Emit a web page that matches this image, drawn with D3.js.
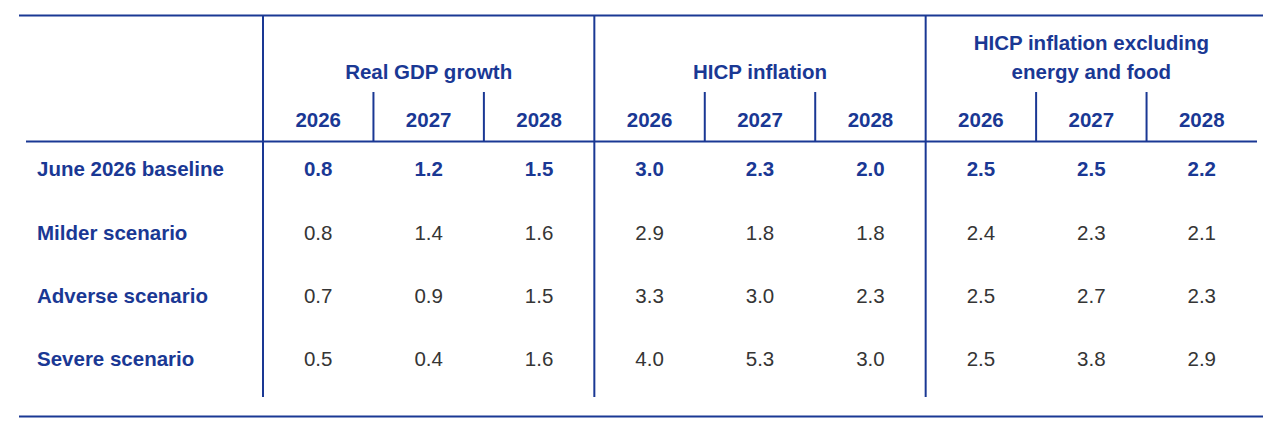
<!DOCTYPE html>
<html>
<head>
<meta charset="utf-8">
<script src="https://cdn.jsdelivr.net/npm/d3@7"></script>
<style>
  body { margin: 0; background: #fff; }
  svg { display: block; font-family: "Liberation Sans", Arial, sans-serif; }
</style>
</head>
<body>
<svg id="tbl" width="1280" height="432"></svg>
<script>
// table data
var scenarios = ["June 2026 baseline", "Milder scenario", "Adverse scenario", "Severe scenario"];
var years = ["2026", "2027", "2028"];
var groups = [["Real GDP growth"], ["HICP inflation"], ["HICP inflation excluding", "energy and food"]];

var gdpGrowth = [
  [0.8, 1.2, 1.5],
  [0.8, 1.4, 1.6],
  [0.7, 0.9, 1.5],
  [0.5, 0.4, 1.6]
];
var hicpInflation = [
  [3.0, 2.3, 2.0],
  [2.9, 1.8, 1.8],
  [3.3, 3.0, 2.3],
  [4.0, 5.3, 3.0]
];
var hicpCore = [
  [2.5, 2.5, 2.2],
  [2.4, 2.3, 2.1],
  [2.5, 2.7, 2.3],
  [2.5, 3.8, 2.9]
];

var blue = "#1a3894", grey = "#353535";
var fs = 20.5;

var svg = d3.select("#tbl");

// columns: 3 groups x 3 years
var cols = d3.range(groups.length * years.length);
var x = d3.scaleBand().domain(cols).range([263, 1257]);
var xg = d3.scaleBand().domain(d3.range(groups.length)).range([263, 1257]);
var y = d3.scalePoint().domain(scenarios).range([169, 359]);

var tableData = [gdpGrowth, hicpInflation, hicpCore];

// --- rules
var lines = svg.append("g").attr("stroke", blue).attr("stroke-width", 2);
lines.append("line").attr("x1", 19).attr("x2", 1263).attr("y1", 15.5).attr("y2", 15.5);
lines.append("line").attr("x1", 26).attr("x2", 1257).attr("y1", 141.5).attr("y2", 141.5);
lines.append("line").attr("x1", 19).attr("x2", 1263).attr("y1", 416.5).attr("y2", 416.5);

// group separators (full height)
lines.selectAll(".gsep")
  .data(d3.range(groups.length))
  .enter().append("line")
  .attr("x1", function(d) { return xg(d); })
  .attr("x2", function(d) { return xg(d); })
  .attr("y1", 15).attr("y2", 397);

// year separators inside header
lines.selectAll(".ysep")
  .data(cols.filter(function(c) { return c % 3 != 0; }))
  .enter().append("line")
  .attr("x1", function(d) { return x(d); })
  .attr("x2", function(d) { return x(d); })
  .attr("y1", 92).attr("y2", 141);

// --- group titles
svg.selectAll(".gtitle")
  .data(groups)
  .enter().append("text")
  .attr("text-anchor", "middle")
  .attr("font-size", fs).attr("font-weight", "bold").attr("fill", blue)
  .each(function(d, i) {
    var t = d3.select(this);
    var start = 79 - (d.length - 1) * 29;
    d.forEach(function(s, k) {
      t.append("tspan")
        .attr("x", xg(i) + xg.bandwidth() / 2)
        .attr("y", start + k * 29)
        .text(s);
    });
  });

// --- year headers
svg.selectAll(".year")
  .data(cols)
  .enter().append("text")
  .attr("x", function(d) { return x(d) + x.bandwidth() / 2; })
  .attr("y", 127)
  .attr("text-anchor", "middle")
  .attr("font-size", fs).attr("font-weight", "bold").attr("fill", blue)
  .text(function(d) { return years[d % 3]; });

// --- row labels
svg.selectAll(".rowlab")
  .data(scenarios)
  .enter().append("text")
  .attr("x", 37)
  .attr("y", function(d) { return y(d); })
  .attr("dy", "0.35em")
  .attr("font-size", fs).attr("font-weight", "bold").attr("fill", blue)
  .text(function(d) { return d; });

// --- values
scenarios.forEach(function(s, r) {
  svg.selectAll(".val" + r)
    .data(cols)
    .enter().append("text")
    .attr("x", function(d) { return x(d) + x.bandwidth() / 2; })
    .attr("y", y(s))
    .attr("dy", "0.35em")
    .attr("text-anchor", "middle")
    .attr("font-size", fs)
    .attr("font-weight", r == 0 ? "bold" : "normal")
    .attr("fill", r == 0 ? blue : grey)
    .text(function(d) { return d3.format(".1f")(tableData[Math.floor(d / 3)][r][d % 3]); });
});
</script>
</body>
</html>
